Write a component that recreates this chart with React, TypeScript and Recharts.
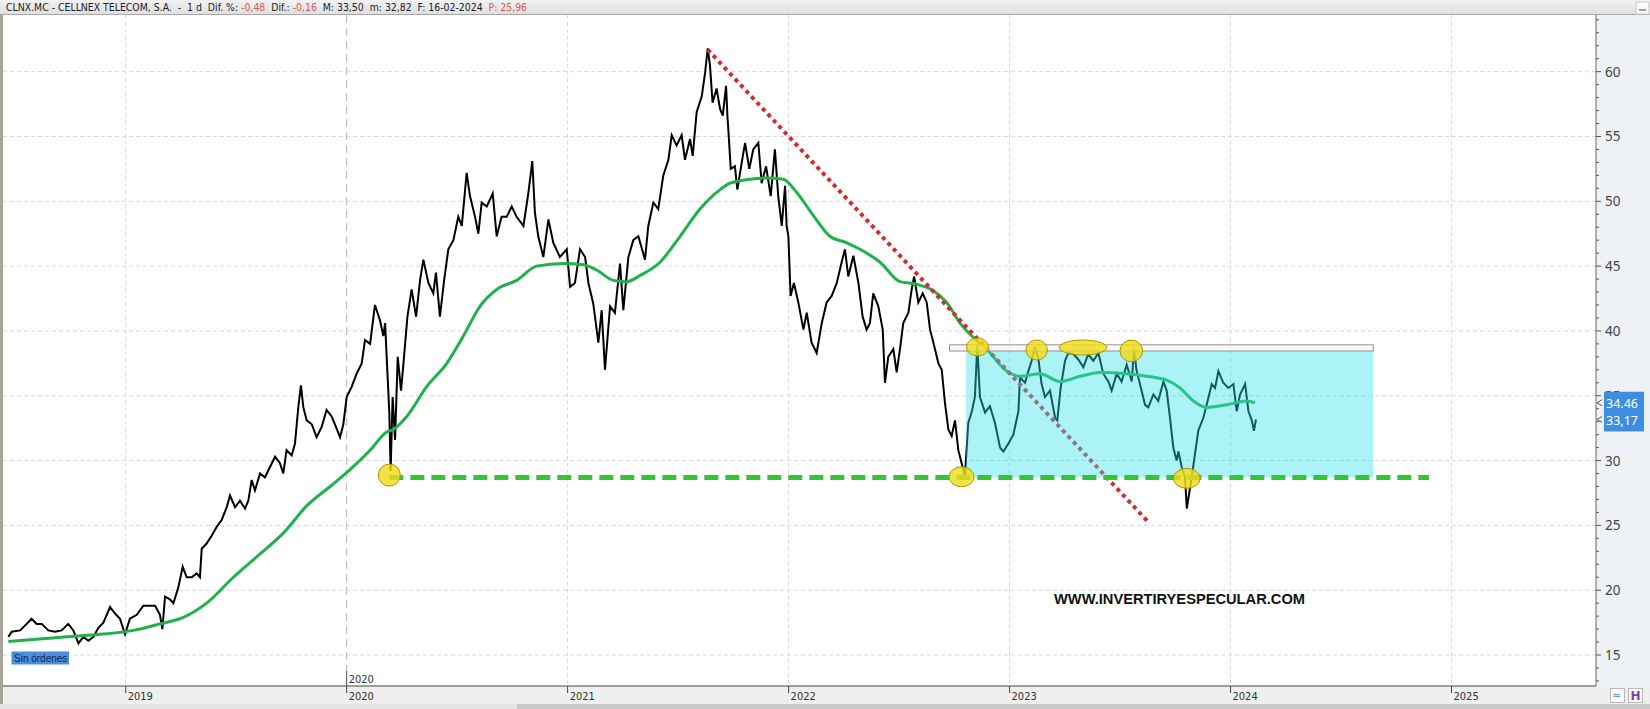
import React from "react";
import {
  ComposedChart,
  Line,
  XAxis,
  YAxis,
  CartesianGrid,
  ReferenceArea,
  ReferenceLine,
  ReferenceDot,
} from "recharts";

// daily chart read off roughly every week (time as decimal year)
const priceTime = [
  2018.469, 2018.484, 2018.522, 2018.552, 2018.574, 2018.597, 2018.62, 2018.65, 2018.68, 2018.71, 2018.74,
  2018.763, 2018.786, 2018.808, 2018.831, 2018.854, 2018.876, 2018.899, 2018.929, 2018.952, 2018.974, 2018.997,
  2019.019, 2019.05, 2019.08, 2019.11, 2019.133, 2019.155, 2019.166, 2019.178, 2019.2, 2019.216,
  2019.238, 2019.258, 2019.276, 2019.299, 2019.321, 2019.336, 2019.344, 2019.366, 2019.389, 2019.412,
  2019.434, 2019.457, 2019.472, 2019.495, 2019.517, 2019.54, 2019.555, 2019.57, 2019.585, 2019.608,
  2019.63, 2019.653, 2019.676, 2019.698, 2019.713, 2019.728, 2019.751, 2019.766, 2019.781, 2019.793,
  2019.804, 2019.819, 2019.842, 2019.864, 2019.887, 2019.909, 2019.932, 2019.947, 2019.97, 2019.985,
  2020.0, 2020.023, 2020.045, 2020.068, 2020.083, 2020.106, 2020.128, 2020.151, 2020.166, 2020.174,
  2020.181, 2020.193, 2020.199, 2020.208, 2020.219, 2020.231, 2020.246, 2020.257, 2020.275, 2020.294,
  2020.314, 2020.332, 2020.347, 2020.37, 2020.392, 2020.404, 2020.422, 2020.441, 2020.46, 2020.483,
  2020.505, 2020.521, 2020.543, 2020.558, 2020.581, 2020.596, 2020.611, 2020.634, 2020.661, 2020.679,
  2020.701, 2020.724, 2020.747, 2020.769, 2020.8, 2020.822, 2020.84, 2020.852, 2020.867, 2020.89,
  2020.913, 2020.935, 2020.965, 2020.996,
  2021.011, 2021.033, 2021.056, 2021.079, 2021.094, 2021.116, 2021.139, 2021.154, 2021.169, 2021.192,
  2021.214, 2021.237, 2021.252, 2021.275, 2021.297, 2021.32,
  2021.35, 2021.365, 2021.388, 2021.41, 2021.433, 2021.456, 2021.471, 2021.493, 2021.516, 2021.531,
  2021.554, 2021.566, 2021.584, 2021.607, 2021.622, 2021.634, 2021.644, 2021.656, 2021.674, 2021.69,
  2021.702, 2021.717, 2021.723, 2021.73, 2021.738, 2021.757, 2021.768, 2021.788, 2021.803, 2021.822,
  2021.84, 2021.863, 2021.878, 2021.898, 2021.919, 2021.938, 2021.953, 2021.969, 2021.984, 2021.991,
  2021.999,
  2022.009, 2022.024, 2022.044, 2022.067, 2022.082, 2022.104, 2022.127, 2022.15, 2022.172,
  2022.195, 2022.218, 2022.24, 2022.255, 2022.27, 2022.293, 2022.316, 2022.335, 2022.353, 2022.368,
  2022.383, 2022.406, 2022.426, 2022.436, 2022.451, 2022.474, 2022.489, 2022.504, 2022.519, 2022.542,
  2022.557, 2022.568, 2022.587, 2022.607, 2022.625, 2022.64, 2022.655, 2022.678, 2022.693, 2022.708,
  2022.723, 2022.738, 2022.753, 2022.768, 2022.783, 2022.798, 2022.813, 2022.828, 2022.843, 2022.854,
  2022.866, 2022.889, 2022.911, 2022.934,
  2022.957, 2022.972, 2022.994,
  2023.017, 2023.04, 2023.047, 2023.07, 2023.085, 2023.1, 2023.115,
  2023.13, 2023.145, 2023.16, 2023.183, 2023.206, 2023.216, 2023.231, 2023.251, 2023.266, 2023.289,
  2023.311, 2023.334, 2023.356, 2023.379, 2023.402, 2023.424, 2023.447, 2023.462, 2023.485, 2023.507,
  2023.53, 2023.553, 2023.563, 2023.575, 2023.59, 2023.613, 2023.628, 2023.651, 2023.673, 2023.696,
  2023.711, 2023.726, 2023.741, 2023.756, 2023.764, 2023.779, 2023.794, 2023.802, 2023.814, 2023.824,
  2023.839, 2023.854, 2023.877, 2023.892, 2023.915, 2023.93, 2023.945, 2023.967, 2023.99,
  2024.013, 2024.028, 2024.043, 2024.066, 2024.081, 2024.096, 2024.106, 2024.115,
];

const priceClose = [
  16.4, 16.8, 16.9, 17.4, 17.8, 17.4, 17.4, 16.9, 16.8, 16.9, 17.4,
  16.9, 15.9, 16.4, 16.1, 16.4, 17.1, 17.5, 18.7, 18.2, 17.8, 16.6,
  17.8, 18.1, 18.8, 18.8, 18.8, 18.1, 17.0, 19.5, 19.3, 19.0,
  20.2, 21.8, 21.0, 21.0, 21.3, 21.0, 23.2, 23.6, 24.2, 24.9,
  25.4, 26.4, 27.3, 26.4, 26.9, 26.3, 26.9, 28.5, 27.7, 29.0,
  28.7, 29.5, 30.3, 29.8, 29.0, 30.8, 30.4, 31.3, 34.1, 35.8,
  34.1, 33.1, 32.8, 31.8, 32.6, 33.9, 33.4, 32.8, 31.8, 32.8,
  34.9, 35.7, 36.7, 37.5, 39.3, 39.0, 42.0, 40.8, 39.6, 40.6,
  38.0, 33.7, 29.2, 34.9, 31.6, 38.0, 35.4, 37.5, 41.1, 43.2,
  41.1, 43.9, 45.5, 43.7, 42.9, 44.5, 41.1, 43.9, 46.3, 47.0,
  48.8, 48.1, 52.2, 50.4, 48.8, 47.5, 49.9, 49.6, 50.6, 47.3,
  48.8, 48.8, 49.6, 48.8, 48.1, 50.6, 53.1, 49.1, 47.3, 45.7,
  48.6, 46.8, 45.7, 46.3,
  43.4, 43.7, 46.3, 45.7, 43.7, 42.1, 39.1, 41.6, 37.0, 41.9,
  41.4, 45.2, 41.6, 45.7, 47.0, 47.3,
  45.5, 48.1, 49.9, 49.4, 52.0, 53.2, 55.1, 54.3, 55.1, 53.2,
  54.8, 53.5, 56.9, 58.1, 59.9, 61.8, 60.5, 57.6, 58.7, 57.1,
  56.6, 58.9, 56.6, 54.8, 52.5, 52.7, 50.9, 53.0, 54.5, 52.5,
  54.0, 54.5, 51.4, 52.7, 50.4, 54.0, 50.4, 48.1, 51.2, 48.1,
  47.3,
  42.7, 43.7, 42.2, 40.1, 41.4, 39.1, 38.3, 40.6, 42.2,
  42.7, 43.7, 45.3, 46.3, 44.2, 45.8, 43.7, 41.1, 40.1, 40.6,
  42.9, 41.9, 40.1, 36.0, 38.0, 38.6, 36.8, 38.6, 40.6, 41.4,
  43.2, 44.2, 42.2, 42.9, 42.2, 40.1, 39.1, 37.5, 37.0, 34.4,
  32.4, 31.9, 33.1, 30.8, 29.8, 28.8, 32.9, 33.7, 34.9, 38.9,
  34.9, 33.7, 34.2, 32.9,
  31.0, 30.7, 31.3,
  32.0, 33.8, 36.4, 36.0, 36.9, 37.7, 38.8,
  37.9, 35.9, 34.9, 35.4, 33.3, 33.1, 35.6, 37.7, 38.3, 38.2,
  37.8, 37.2, 38.2, 37.7, 38.3, 36.7, 36.1, 35.4, 36.7, 36.1,
  37.4, 36.1, 38.6, 36.9, 35.9, 34.3, 34.1, 35.1, 34.6, 36.1,
  35.4, 33.3, 31.0, 30.0, 30.7, 29.5, 28.7, 26.3, 27.6, 28.7,
  30.5, 32.3, 33.3, 34.3, 35.9, 35.6, 36.9, 36.0, 35.6,
  35.9, 33.8, 35.1, 35.9, 33.8, 33.1, 32.3, 33.17,
];

// 200-session moving average
const smaTime = [
  2018.469, 2018.582, 2018.733, 2018.884,
  2019.035, 2019.155, 2019.261, 2019.366, 2019.487, 2019.608, 2019.713, 2019.819, 2019.925,
  2020.015, 2020.106, 2020.181, 2020.211, 2020.272, 2020.362, 2020.453, 2020.528, 2020.603, 2020.679,
  2020.769, 2020.86, 2020.981,
  2021.071, 2021.131, 2021.207, 2021.267, 2021.33, 2021.418, 2021.509, 2021.599, 2021.69, 2021.735,
  2021.825, 2021.901, 2021.976,
  2022.036, 2022.112, 2022.187, 2022.263, 2022.323, 2022.414, 2022.504, 2022.58, 2022.655, 2022.715,
  2022.776, 2022.836, 2022.896, 2022.987,
  2023.047, 2023.138, 2023.228, 2023.319, 2023.409, 2023.53, 2023.621, 2023.711, 2023.771, 2023.832,
  2023.892, 2023.983,
  2024.073, 2024.111,
];

const smaValue = [
  16.05, 16.2, 16.4, 16.6,
  16.9, 17.4, 17.9, 19.0, 21.0, 22.8, 24.4, 26.5, 28.0,
  29.3, 30.8, 32.2, 32.4, 33.4, 35.7, 37.5, 39.6, 41.9, 43.2,
  43.9, 45.0, 45.2,
  45.1, 44.7, 43.9, 43.8, 44.3, 45.3, 47.3, 49.4, 50.9, 51.4,
  51.7, 51.8, 51.7,
  50.7, 48.9, 47.3, 46.8, 46.3, 45.3, 43.8, 43.6, 43.1, 42.2,
  40.6, 39.5, 38.6, 36.9,
  36.5, 36.7, 36.1, 36.5, 36.8, 36.7, 36.5, 36.2, 35.6, 34.6,
  34.1, 34.3,
  34.6, 34.46,
];

const yearTicks = [2019, 2020, 2021, 2022, 2023, 2024, 2025];
const priceTicks = [15, 20, 25, 30, 35, 40, 45, 50, 55, 60];
const minorTicks = Array.from({ length: 52 }, (_, i) => 13 + i);

// drawn annotations
const supportLevel = 28.7;
const supportFrom = 2020.193;
const supportTo = 2024.898;
const rangeFrom = 2022.803;
const rangeTo = 2024.646;
const rangeTop = 38.5;
const capFrom = 2022.728;
const capLow = 38.45;
const capHigh = 38.93;
const trendTime = [2021.634, 2023.631];
const trendValue = [61.7, 25.2];
const touchTime = [2020.193, 2022.783, 2022.855, 2023.123, 2023.332, 2023.551, 2023.802];
const touchValue = [28.88, 28.75, 38.76, 38.53, 38.72, 38.46, 28.63];
const touchRx = [11, 12.5, 11, 10.7, 23.7, 11.3, 13.3];
const touchRy = [11, 10, 9, 10, 7.5, 10.8, 10];
const lastSma = 34.46;
const lastClose = 33.17;

const headerParts = [
  { text: "CLNX.MC - CELLNEX TELECOM, S.A.  -  1 d  Dif. %: ", red: false },
  { text: "-0,48", red: true },
  { text: "  Dif.: ", red: false },
  { text: "-0,16", red: true },
  { text: "  M: 33,50  m: 32,82  F: 16-02-2024  ", red: false },
  { text: "P: 25,96", red: true },
];

const W = 1650;
const H = 709;
const PLOT = { left: 3, top: 15, right: 1596, bottom: 686 };
const T_MIN = 2018.4447;
const T_MAX = 2025.6539;
const Y_MIN = 12.61;
const Y_MAX = 64.37;

const xOf = (t: number) => PLOT.left + ((t - T_MIN) / (T_MAX - T_MIN)) * (PLOT.right - PLOT.left);
const yOf = (v: number) => PLOT.top + ((Y_MAX - v) / (Y_MAX - Y_MIN)) * (PLOT.bottom - PLOT.top);

const narrow = "'Liberation Sans Narrow', 'DejaVu Sans Condensed', 'Liberation Sans', sans-serif";

const YearTick = (props: any) => {
  const { x, y, payload } = props;
  return (
    <g>
      <line x1={x} x2={x} y1={y} y2={y + 7} stroke="#444" />
      <text x={x + 2} y={y + 14} fontSize={11} fontFamily={narrow} fill="#333">
        {payload.value}
      </text>
    </g>
  );
};

const PriceTick = (props: any) => {
  const { x, y, payload } = props;
  const major = payload.value % 5 === 0;
  return (
    <g>
      <line x1={x} x2={x + (major ? 5 : 3)} y1={y} y2={y} stroke="#555" />
      {major && (
        <text x={x + 9} y={y + 5} fontSize={13.5} fontFamily="'Noto Sans', 'Open Sans', sans-serif" fill="#444">
          {payload.value}
        </text>
      )}
    </g>
  );
};

const App = () => {
  const priceData = priceTime.map((t, i) => ({ t, close: priceClose[i] }));
  const smaData = smaTime.map((t, i) => ({ t, sma: smaValue[i] }));

  return (
    <div style={{ position: "relative", width: W, height: H, background: "#fff", overflow: "hidden" }}>
      <style>{"body{margin:0}"}</style>

      {/* panel backgrounds */}
      <svg width={W} height={H} style={{ position: "absolute", left: 0, top: 0 }}>
        <rect x={PLOT.right} y={PLOT.top} width={W - PLOT.right} height={PLOT.bottom - PLOT.top} fill="#eef2f7" />
        <rect x={0} y={PLOT.bottom} width={W} height={18} fill="#efefef" />
        <rect x={0} y={704} width={517} height={5} fill="#e4e4e4" />
        <rect x={517} y={704} width={W - 517} height={5} fill="#c8c8c8" />
      </svg>

      <div style={{ position: "absolute", left: 0, top: 0 }}>
        <ComposedChart width={W} height={H} margin={{ top: 15, right: 0, bottom: 5, left: 3 }}>
          <CartesianGrid
            horizontalValues={priceTicks}
            verticalValues={[2019, 2021, 2022, 2023, 2024, 2025]}
            stroke="#d9d9d9"
            strokeDasharray="4 3"
          />
          <ReferenceLine x={2020} stroke="#b4b4b4" strokeDasharray="8 5" />
          <XAxis
            dataKey="t"
            type="number"
            domain={[T_MIN, T_MAX]}
            allowDataOverflow
            ticks={yearTicks}
            interval={0}
            height={18}
            tickSize={0}
            tickMargin={0}
            tickLine={false}
            axisLine={{ stroke: "#444" }}
            tick={(p: any) => <YearTick {...p} />}
          />
          <YAxis
            orientation="right"
            type="number"
            domain={[Y_MIN, Y_MAX]}
            allowDataOverflow
            ticks={minorTicks}
            interval={0}
            width={54}
            tickSize={0}
            tickMargin={0}
            tickLine={false}
            axisLine={{ stroke: "#666" }}
            tick={(p: any) => <PriceTick {...p} />}
          />
          <Line
            data={priceData}
            dataKey="close"
            type="linear"
            stroke="#000"
            strokeWidth={2}
            dot={false}
            isAnimationActive={false}
            zIndex={400}
          />
          <Line
            data={smaData}
            dataKey="sma"
            type="monotone"
            stroke="#21b04e"
            strokeWidth={3}
            dot={false}
            isAnimationActive={false}
            zIndex={401}
          />
          <ReferenceLine
            segment={[
              { x: trendTime[0], y: trendValue[0] },
              { x: trendTime[1], y: trendValue[1] },
            ]}
            stroke="#d42c2c"
            strokeWidth={4}
            strokeDasharray="4 4"
            ifOverflow="visible"
            zIndex={402}
          />
          <ReferenceArea
            x1={rangeFrom}
            x2={rangeTo}
            y1={supportLevel}
            y2={rangeTop}
            fill="#30e0ee"
            fillOpacity={0.4}
            stroke="none"
            zIndex={403}
          />
          <ReferenceLine
            segment={[
              { x: supportFrom, y: supportLevel },
              { x: supportTo, y: supportLevel },
            ]}
            stroke="#35c435"
            strokeWidth={5}
            strokeDasharray="14 7"
            ifOverflow="visible"
            zIndex={404}
          />
          <ReferenceArea
            x1={capFrom}
            x2={rangeTo}
            y1={capLow}
            y2={capHigh}
            fill="#f2f2f2"
            stroke="#a88c8c"
            strokeWidth={1}
            zIndex={405}
          />
          {touchTime.map((t, i) => (
            <ReferenceDot
              key={i}
              x={t}
              y={touchValue[i]}
              r={10}
              ifOverflow="visible"
              zIndex={406}
              shape={(p: any) => (
                <ellipse
                  cx={p.cx}
                  cy={p.cy}
                  rx={touchRx[i]}
                  ry={touchRy[i]}
                  fill="#f0dc1a"
                  fillOpacity={0.82}
                  stroke="#a89800"
                  strokeWidth={1}
                />
              )}
            />
          ))}
        </ComposedChart>
      </div>

      {/* frame and labels */}
      <svg width={W} height={H} style={{ position: "absolute", left: 0, top: 0, pointerEvents: "none" }}>
        <defs>
          <linearGradient id="hdr" x1="0" y1="0" x2="0" y2="1">
            <stop offset="0" stopColor="#f2f2f2" />
            <stop offset="1" stopColor="#dedede" />
          </linearGradient>
        </defs>
        <rect x={0} y={0} width={W} height={PLOT.top} fill="url(#hdr)" />
        <line x1={0} x2={W} y1={PLOT.top - 0.5} y2={PLOT.top - 0.5} stroke="#a8a8a8" />
        <rect x={1636} y={2} width={13} height={12} fill="#fafafa" stroke="#c8c8c8" />
        <line x1={1639} x2={1646} y1={10} y2={10} stroke="#444" />

        <rect x={0} y={PLOT.top} width={PLOT.left} height={704 - PLOT.top} fill="#aaa39a" />

        {/* year separator label */}
        <line x1={xOf(2020)} x2={xOf(2020)} y1={671} y2={PLOT.bottom} stroke="#555" />
        <text x={xOf(2020) + 2} y={683} fontSize={11} fontFamily={narrow} fill="#333">
          2020
        </text>

        {/* last values on the price scale */}
        <path
          d={`M${PLOT.right + 6} ${yOf(lastSma) - 3} L${PLOT.right + 1} ${yOf(lastSma)} L${PLOT.right + 6} ${yOf(lastSma) + 3}`}
          stroke="#555"
          fill="none"
        />
        <path
          d={`M${PLOT.right + 6} ${yOf(lastClose) - 3} L${PLOT.right + 1} ${yOf(lastClose)} L${PLOT.right + 6} ${yOf(lastClose) + 3}`}
          stroke="#555"
          fill="none"
        />
        <rect
          x={1604}
          y={yOf(lastSma) - 11}
          width={40}
          height={yOf(lastClose) - yOf(lastSma) + 23}
          fill="#3d8ee0"
        />
        <text x={1606} y={yOf(lastSma) + 5} fontSize={12.5} fontFamily="'Noto Sans', sans-serif" fill="#fff">
          {lastSma.toFixed(2)}
        </text>
        <text x={1606} y={yOf(lastClose) + 6} fontSize={12.5} fontFamily="'Noto Sans', sans-serif" fill="#fff">
          {lastClose.toFixed(2).replace(".", ",")}
        </text>

        {/* status badge */}
        <rect x={11.5} y={651.5} width={57.5} height={13} fill="#4b8fdc" />
        <text x={14} y={661.5} fontSize={10} fontFamily="'Liberation Sans', sans-serif" fill="#14264a">
          Sin órdenes
        </text>

        {/* watermark */}
        <text
          x={1054}
          y={604}
          fontSize={14.5}
          fontWeight="bold"
          fontFamily="'Liberation Sans', Arial, sans-serif"
          fill="#111"
          textLength={251}
          lengthAdjust="spacingAndGlyphs"
        >
          WWW.INVERTIRYESPECULAR.COM
        </text>

        {/* toolbar icons */}
        <rect x={1610.5} y={688.5} width={14} height={14} fill="#fafafa" stroke="#b8b8b8" />
        <text x={1612} y={699} fontSize={11} fill="#5a8ad0" fontFamily="'DejaVu Sans', sans-serif">
          ≈
        </text>
        <rect x={1628.5} y={688.5} width={14} height={14} fill="#fafafa" stroke="#b8b8b8" />
        <text x={1630.5} y={700} fontSize={12} fontWeight="bold" fill="#7a3fb0" fontFamily="'DejaVu Sans', sans-serif">
          H
        </text>
      </svg>

      {/* quote header */}
      <div
        style={{
          position: "absolute",
          left: 6,
          top: 1,
          height: 13,
          lineHeight: "13px",
          fontSize: 10.4,
          fontFamily: narrow,
          whiteSpace: "pre",
          color: "#1b2030",
        }}
      >
        {headerParts.map((p, i) => (
          <span key={i} style={{ color: p.red ? "#e05555" : "#1b2030" }}>
            {p.text}
          </span>
        ))}
      </div>
    </div>
  );
};

export default App;
